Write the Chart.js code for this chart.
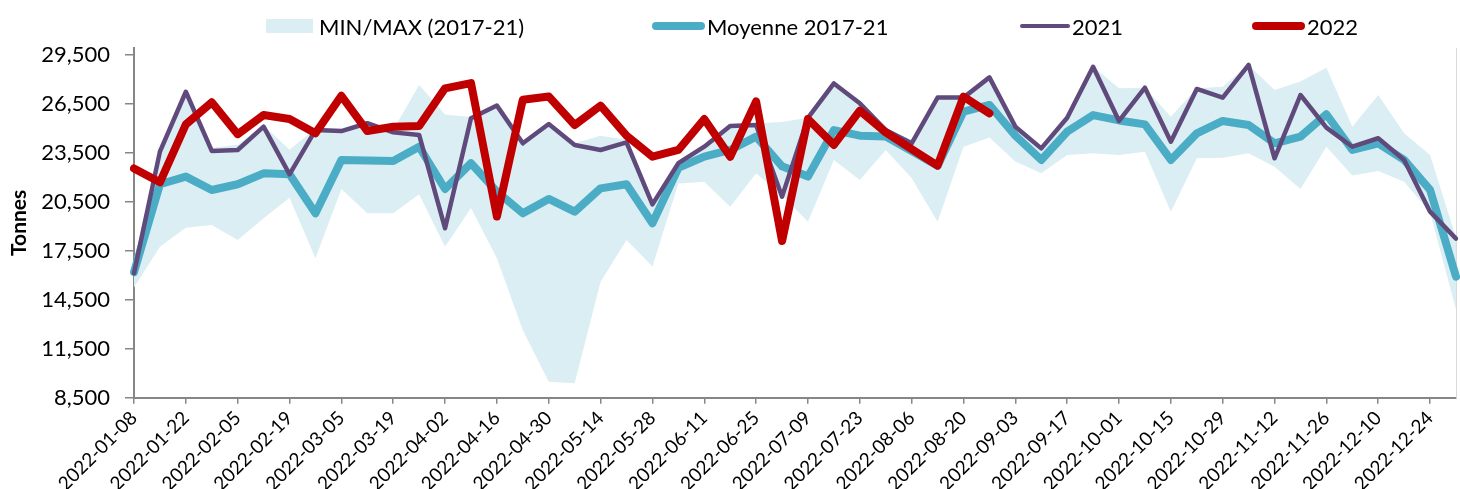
<!DOCTYPE html>
<html>
<head>
<meta charset="utf-8">
<script src="https://cdn.jsdelivr.net/npm/chart.js@4.4.0/dist/chart.umd.min.js"></script>
<style>
   html, body { margin: 0; padding: 0; background: #fff; }
   .wrap { position: relative; width: 1460px; height: 489px; }
   .legend { position: absolute; top: 0; left: 0; width: 1460px; height: 48px; font-family: Lato, sans-serif; font-size: 22px; color: #000; }
   .legend__item { position: absolute; top: 13px; height: 26px; display: flex; align-items: center; white-space: nowrap; }
   .legend__mark { display: inline-block; margin-right: 6px; }
</style>
</head>
<body>
<div class="wrap">
   <canvas id="myChart" width="1460" height="489"></canvas>
   <div class="legend" id="legend"></div>
</div>
<script>
const weeks = [
   '2022-01-08', '2022-01-15', '2022-01-22', '2022-01-29', '2022-02-05', '2022-02-12', '2022-02-19', '2022-02-26',
   '2022-03-05', '2022-03-12', '2022-03-19', '2022-03-26', '2022-04-02', '2022-04-09', '2022-04-16', '2022-04-23',
   '2022-04-30', '2022-05-07', '2022-05-14', '2022-05-21', '2022-05-28', '2022-06-04', '2022-06-11', '2022-06-18',
   '2022-06-25', '2022-07-02', '2022-07-09', '2022-07-16', '2022-07-23', '2022-07-30', '2022-08-06', '2022-08-13',
   '2022-08-20', '2022-08-27', '2022-09-03', '2022-09-10', '2022-09-17', '2022-09-24', '2022-10-01', '2022-10-08',
   '2022-10-15', '2022-10-22', '2022-10-29', '2022-11-05', '2022-11-12', '2022-11-19', '2022-11-26', '2022-12-03',
   '2022-12-10', '2022-12-17', '2022-12-24', '2022-12-31'
];

// MIN/MAX (2017-21)
const bandMax = [
   17000, 23700, 27300, 23800, 24000, 25200, 23700, 25000, 24900, 25400, 24900, 27660, 25850,
   25700, 26450, 24200, 25300, 24100, 24550, 24300, 20500, 22900, 23900, 25150, 25300, 25400,
   25650, 27800, 26600, 24950, 24300, 26900, 26900, 28150, 25200, 23850, 25700, 28800, 27460,
   27500, 25720, 27460, 27560, 28890, 27360, 27870, 28720, 25110, 27050, 24700, 23370, 18300
];
const bandMin = [
   15250, 17750, 18920, 19080, 18160, 19490, 20760, 17040, 21290, 19800, 19800, 20960, 17750,
   20130, 17040, 12640, 9480, 9380, 15610, 18160, 16540, 21630, 21730, 20200, 22250, 20900,
   19280, 23070, 21840, 23680, 21960, 19280, 23880, 24440, 22970, 22250, 23370, 23480, 23370,
   23570, 19900, 23170, 23210, 23480, 22660, 21290, 23880, 22110, 22390, 21730, 19850, 13900
];
// Moyenne 2017-21
const avg = [
   16200, 21580, 22050, 21230, 21580, 22250, 22190, 19800, 23070, 23030, 23010, 23880, 21290,
   22870, 21130, 19800, 20680, 19900, 21330, 21580, 19190, 22580, 23270, 23680, 24500, 22680,
   22050, 24900, 24560, 24500, 23620, 22720, 26030, 26440, 24560, 23070, 24800, 25820, 25490,
   25250, 23070, 24700, 25460, 25210, 24090, 24500, 25870, 23680, 24090, 23070, 21230, 15920
];
const y2021 = [
   16130, 23580, 27250, 23620, 23680, 25110, 22190, 24900, 24840, 25320, 24760, 24600, 18880,
   25620, 26400, 24090, 25270, 23990, 23680, 24150, 20350, 22870, 23880, 25150, 25210, 20820,
   25650, 27760, 26540, 24900, 24090, 26890, 26890, 28130, 25110, 23780, 25660, 28780, 25460,
   27500, 24190, 27420, 26890, 28890, 23170, 27050, 25050, 23880, 24400, 23070, 19900, 18250
];
const y2022 = [
   22550, 21700, 25250, 26600, 24650, 25820, 25580, 24700, 27000, 24840, 25100, 25150, 27460,
   27780, 19600, 26760, 26960, 25210, 26400, 24560, 23270, 23680, 25580, 23270, 26660, 18100,
   25580, 23990, 26090, 24760, 23740, 22720, 26950, 25930
];
const yTicks = [8500, 11500, 14500, 17500, 20500, 23500, 26500, 29500];

const axisGray = '#868686';
const colors = {
   band: '#DAEEF3',
   avg: '#4BACC6',
   y2021: '#604A7B',
   y2022: '#C00000'
};

Chart.defaults.font.family = 'Lato, sans-serif';
Chart.defaults.color = '#000';

const data = {
   labels: weeks,
   datasets: [
      { label: '2022', data: y2022, borderColor: colors.y2022, borderWidth: 8, fill: false, order: 1 },
      { label: '2021', data: y2021, borderColor: colors.y2021, borderWidth: 4.5, fill: false, order: 2 },
      { label: 'Moyenne 2017-21', data: avg, borderColor: colors.avg, borderWidth: 8, fill: false, order: 3 },
      { label: 'MIN/MAX (2017-21)', data: bandMax, borderWidth: 0, borderColor: 'rgba(0,0,0,0)', backgroundColor: colors.band, fill: '+1', order: 4 },
      { label: 'min', data: bandMin, borderWidth: 0, borderColor: 'rgba(0,0,0,0)', fill: false, order: 5 }
   ]
};

const config = {
   type: 'line',
   data: data,
   options: {
      responsive: false,
      animation: false,
      devicePixelRatio: 1,
      layout: {
         padding: { top: 48, left: 0, right: 0, bottom: 0 }
      },
      elements: {
         point: { radius: 0, hoverRadius: 0 },
         line: { tension: 0, borderJoinStyle: 'round', borderCapStyle: 'round' }
      },
      scales: {
         x: {
            grid: {
               display: true,
               drawOnChartArea: false,
               drawTicks: true,
               tickLength: 6,
               lineWidth: 1.5,
               color: axisGray
            },
            border: { display: true, color: axisGray, width: 2 },
            ticks: {
               autoSkip: false,
               minRotation: 45,
               maxRotation: 45,
               padding: 3,
               color: '#000',
               font: { size: 19 },
               // every second week only; null hides the tick mark as well
               callback: function (value, index) {
                  return index % 2 === 0 ? this.getLabelForValue(value) : null;
               }
            },
            afterFit: (scale) => {
               scale.height = 91.3;
               scale.paddingLeft = 0;
               scale.paddingRight = 0;
            }
         },
         y: {
            min: 8500,
            max: 29930,
            afterBuildTicks: (axis) => {
               axis.ticks = yTicks.map(v => ({ value: v }));
            },
            grid: {
               drawOnChartArea: false,
               drawTicks: true,
               tickLength: 9,
               lineWidth: 1.5,
               color: axisGray
            },
            border: { display: true, color: axisGray, width: 2 },
            ticks: {
               padding: 15,
               color: '#000',
               font: { size: 22 },
               callback: (v) => Number(v).toLocaleString('en-US')
            },
            title: {
               display: true,
               text: 'Tonnes',
               color: '#000',
               font: { size: 21, weight: 'bold' },
               padding: { top: 7, bottom: 0 }
            },
            afterFit: (scale) => { scale.width = 134; }
         },
         y2: {
            position: 'right',
            display: true,
            grid: { display: false },
            ticks: { display: false },
            border: { display: true, color: '#d9d9d9', width: 1 },
            afterFit: (scale) => { scale.width = 4; }
         }
      },
      plugins: {
         legend: { display: false },
         tooltip: { enabled: false }
      }
   }
};

const myChart = new Chart(document.getElementById('myChart'), config);

// legend drawn as html so the wide spacing of the original can be kept
const legendItems = [
   { text: 'MIN/MAX (2017-21)', type: 'box', color: colors.band, left: 266, width: 47, height: 14 },
   { text: 'Moyenne 2017-21', type: 'line', color: colors.avg, left: 652, width: 53, height: 8 },
   { text: '2021', type: 'line', color: colors.y2021, left: 1020, width: 50, height: 4.5 },
   { text: '2022', type: 'line', color: colors.y2022, left: 1252, width: 53, height: 8 }
];

const legend = document.getElementById('legend');
legendItems.forEach(item => {
   const el = document.createElement('div');
   el.className = 'legend__item';
   el.style.left = `${item.left}px`;
   const mark = document.createElement('span');
   mark.className = 'legend__mark';
   mark.style.width = `${item.width}px`;
   mark.style.height = `${item.height}px`;
   mark.style.background = item.color;
   if (item.type === 'line') {
      mark.style.borderRadius = `${item.height / 2}px`;
      mark.style.marginRight = '2px';
   }
   const label = document.createElement('span');
   label.textContent = item.text;
   el.appendChild(mark);
   el.appendChild(label);
   legend.appendChild(el);
});
</script>
</body>
</html>
